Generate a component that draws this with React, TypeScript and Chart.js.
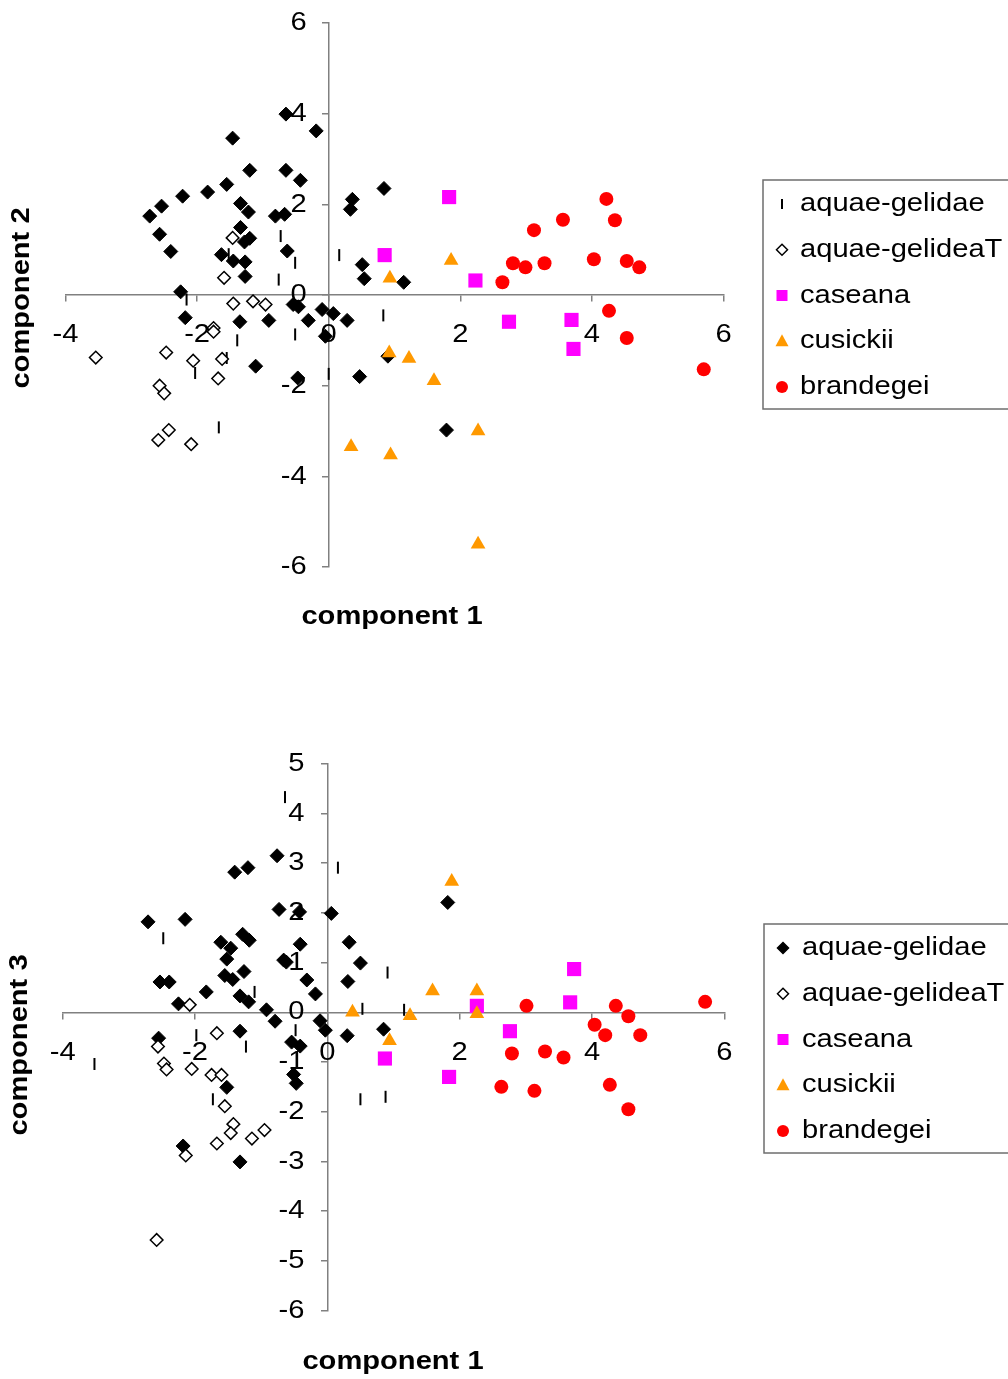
import React, { useEffect, useRef } from "react";
import { Chart, registerables } from "chart.js";

Chart.register(...registerables);

type Pt = [number, number];

// ---------- tick values ----------
const xTicks = [-4, -2, 0, 2, 4, 6];
const yTicksTop = [-6, -4, -2, 0, 2, 4, 6];
const yTicksBottom = [-6, -5, -4, -3, -2, -1, 0, 1, 2, 3, 4, 5];

// ---------- legend labels ----------
const legendTop = ["aquae-gelidae", "aquae-gelideaT", "caseana", "cusickii", "brandegei"];
const legendBottom = ["aquae-gelidae", "aquae-gelideaT", "caseana", "cusickii", "brandegei"];

// ---------- component 1 vs component 2 ----------
const c2Filled: Pt[] = [
  [-1.46, 3.46], [-0.65, 3.99], [-0.19, 3.62], [-2.72, 1.74], [-2.54, 1.96], [-2.22, 2.18],
  [-1.84, 2.27], [-1.55, 2.44], [-1.2, 2.75], [-1.34, 2.02], [-1.22, 1.83], [-2.57, 1.34],
  [-2.4, 0.96], [-1.34, 1.49], [-1.28, 1.17], [-1.2, 1.25], [-1.63, 0.89], [-1.45, 0.75],
  [-1.27, 0.73], [-1.27, 0.41], [-2.25, 0.07], [-0.65, 2.75], [-0.43, 2.53], [-0.81, 1.74],
  [-0.67, 1.78], [-0.63, 0.97], [0.33, 1.89], [0.36, 2.11], [0.84, 2.35], [0.51, 0.67],
  [0.54, 0.36], [1.14, 0.28], [-2.18, -0.5], [-1.35, -0.59], [-1.11, -1.57], [-0.54, -0.21],
  [-0.46, -0.26], [-0.91, -0.56], [-0.31, -0.56], [-0.1, -0.32], [0.07, -0.41], [0.28, -0.56],
  [-0.05, -0.91], [0.47, -1.8], [0.9, -1.35], [1.79, -2.98], [-0.47, -1.83],
];
const c2Dash: Pt[] = [
  [-1.52, 0.9], [-2.16, -0.1], [-1.39, -1.0], [-2.03, -1.72], [-1.67, -2.92], [-1.55, -1.39],
  [-0.73, 1.3], [-0.51, 0.71], [-0.76, 0.34], [0.16, 0.88], [-0.51, -0.87], [0.83, -0.45],
  [0.0, -1.74],
];
const c2Open: Pt[] = [
  [-1.46, 1.26], [-1.59, 0.38], [-1.45, -0.19], [-0.96, -0.21], [-1.75, -0.73],
  [-1.75, -0.81], [-3.54, -1.38], [-2.47, -1.27], [-2.06, -1.45], [-1.62, -1.41], [-1.68, -1.84],
  [-2.57, -2.0], [-2.5, -2.17], [-2.43, -2.98], [-2.59, -3.2], [-2.09, -3.29], [-1.15, -0.14],
];
const c2Caseana: Pt[] = [[0.85, 0.88], [1.83, 2.16], [2.23, 0.32], [2.74, -0.59], [3.69, -0.55], [3.72, -1.19]];
const c2Cusickii: Pt[] = [
  [0.93, 0.37], [1.86, 0.76], [0.92, -1.28], [1.22, -1.4], [1.6, -1.89], [0.34, -3.35],
  [0.94, -3.53], [2.27, -3.0], [2.27, -5.5],
];
const c2Brandegei: Pt[] = [
  [4.22, 2.12], [4.35, 1.65], [3.56, 1.66], [3.12, 1.43], [2.8, 0.7], [2.99, 0.61], [3.28, 0.7],
  [2.64, 0.28], [4.03, 0.79], [4.53, 0.75], [4.72, 0.61], [4.26, -0.35], [4.53, -0.95], [5.7, -1.64],
];

// ---------- component 1 vs component 3 ----------
const c3Filled: Pt[] = [
  [-1.4, 2.82], [-1.2, 2.91], [-2.71, 1.82], [-2.15, 1.87], [-1.61, 1.41], [-1.28, 1.57],
  [-1.18, 1.45], [-1.46, 1.29], [-1.52, 1.07], [-1.55, 0.74], [-1.43, 0.66], [-1.26, 0.82],
  [-2.53, 0.61], [-2.39, 0.61], [-1.83, 0.41], [-1.32, 0.33], [-1.19, 0.21], [-2.25, 0.17],
  [-0.76, 3.15], [-0.73, 2.07], [-0.42, 2.02], [0.06, 1.99], [-0.41, 1.37], [-0.66, 1.05],
  [-0.62, 1.01], [0.33, 1.41], [0.5, 0.99], [0.31, 0.62], [-0.31, 0.65], [-0.18, 0.37],
  [-0.92, 0.05], [-0.79, -0.18], [-0.11, -0.17], [-0.03, -0.36], [0.3, -0.47], [0.85, -0.34],
  [-0.54, -0.6], [-0.41, -0.68], [-0.51, -1.25], [-0.47, -1.43], [1.82, 2.21], [-1.32, -0.38],
  [-2.55, -0.52], [-1.52, -1.51], [-2.18, -2.69], [-1.32, -3.01],
];
const c3Dash: Pt[] = [
  [-1.98, -0.46], [-1.23, -0.69], [-3.52, -1.04], [-1.73, -1.75], [0.16, 2.91], [0.91, 0.8],
  [0.53, 0.07], [1.16, 0.05], [0.5, -1.75], [0.88, -1.7], [-0.64, 4.33], [-2.48, 1.49],
  [-1.1, 0.41], [-0.48, -0.36],
];
const c3Open: Pt[] = [
  [-2.08, 0.15], [-1.67, -0.42], [-2.56, -0.69], [-2.47, -1.03], [-2.43, -1.15], [-2.05, -1.14],
  [-1.75, -1.26], [-1.6, -1.26], [-1.55, -1.89], [-1.42, -2.25], [-1.46, -2.43], [-1.67, -2.64],
  [-1.14, -2.54], [-0.95, -2.37], [-2.14, -2.88], [-2.58, -4.58],
];
const c3Caseana: Pt[] = [[0.87, -0.93], [1.84, -1.3], [2.26, 0.13], [2.76, -0.38], [3.67, 0.2], [3.73, 0.87]];
const c3Cusickii: Pt[] = [[0.38, 0.0], [0.94, -0.57], [1.25, -0.07], [1.59, 0.43], [1.88, 2.63], [2.26, 0.43], [2.26, -0.03]];
const c3Brandegei: Pt[] = [
  [3.01, 0.13], [4.36, 0.13], [4.55, -0.08], [5.71, 0.21], [4.04, -0.25], [4.2, -0.46], [4.73, -0.46],
  [2.79, -0.83], [3.29, -0.79], [3.57, -0.91], [2.63, -1.5], [3.13, -1.58], [4.27, -1.46], [4.55, -1.95],
];

// ---------- styling ----------
const FONT = '"Liberation Sans", Arial, Helvetica, sans-serif';
const AXIS_COLOR = "#808080";
const PINK = "#FF00FF";
const ORANGE = "#FF9900";
const RED = "#FF0000";

type Kind = "dash" | "filled" | "open" | "square" | "triangle" | "circle";

const toXY = (arr: Pt[]) => arr.map(([x, y]) => ({ x, y }));

function dataset(kind: Kind, label: string, arr: Pt[], order: number): any {
  const base: any = { label, data: toXY(arr), order, showLine: false, clip: false };
  switch (kind) {
    case "filled":
      return { ...base, pointStyle: "rectRot", pointRadius: 7, backgroundColor: "#000", borderColor: "#000", borderWidth: 1 };
    case "dash":
      return { ...base, pointStyle: "line", pointRotation: 90, pointRadius: 6, backgroundColor: "#000", borderColor: "#000", borderWidth: 2 };
    case "open":
      return { ...base, pointStyle: "rectRot", pointRadius: 6.3, backgroundColor: "#fff", borderColor: "#000", borderWidth: 1.5 };
    case "square":
      return { ...base, pointStyle: "rect", pointRadius: 10, backgroundColor: PINK, borderColor: PINK, borderWidth: 0 };
    case "triangle":
      return { ...base, pointStyle: "triangle", pointRadius: 8.5, backgroundColor: ORANGE, borderColor: ORANGE, borderWidth: 0 };
    case "circle":
      return { ...base, pointStyle: "circle", pointRadius: 7, backgroundColor: RED, borderColor: RED, borderWidth: 0 };
  }
}

function stretchText(ctx: CanvasRenderingContext2D, text: string, x: number, y: number, align: CanvasTextAlign, sx: number, rotate = 0) {
  ctx.save();
  ctx.translate(x, y);
  if (rotate) ctx.rotate(rotate);
  ctx.scale(sx, 1);
  ctx.textAlign = align;
  ctx.textBaseline = "middle";
  ctx.fillText(text, 0, 0);
  ctx.restore();
}

function drawMarker(ctx: CanvasRenderingContext2D, kind: Kind, x: number, y: number) {
  ctx.save();
  ctx.beginPath();
  if (kind === "dash") {
    ctx.strokeStyle = "#000";
    ctx.lineWidth = 2;
    ctx.moveTo(x, y - 5);
    ctx.lineTo(x, y + 5);
    ctx.stroke();
  } else if (kind === "filled" || kind === "open") {
    const r = 5.5;
    ctx.moveTo(x, y - r);
    ctx.lineTo(x + r, y);
    ctx.lineTo(x, y + r);
    ctx.lineTo(x - r, y);
    ctx.closePath();
    ctx.fillStyle = kind === "filled" ? "#000" : "#fff";
    ctx.fill();
    ctx.strokeStyle = "#000";
    ctx.lineWidth = 1.5;
    ctx.stroke();
  } else if (kind === "square") {
    ctx.fillStyle = PINK;
    ctx.fillRect(x - 5.5, y - 5.5, 11, 11);
  } else if (kind === "triangle") {
    ctx.fillStyle = ORANGE;
    ctx.moveTo(x, y - 7);
    ctx.lineTo(x + 6.5, y + 5);
    ctx.lineTo(x - 6.5, y + 5);
    ctx.closePath();
    ctx.fill();
  } else {
    ctx.fillStyle = RED;
    ctx.arc(x, y, 6, 0, Math.PI * 2);
    ctx.fill();
  }
  ctx.restore();
}

const decorPlugin = {
  id: "decor",
  afterDraw(chart: any, _args: any, opts: any) {
    const ctx: CanvasRenderingContext2D = chart.ctx;
    const xs = chart.scales.x;
    const ys = chart.scales.y;
    const x0 = xs.getPixelForValue(0);
    const y0 = ys.getPixelForValue(0);
    ctx.save();
    ctx.fillStyle = "#000";
    ctx.font = `${opts.tickSize}px ${FONT}`;
    for (const t of xs.ticks) {
      stretchText(ctx, String(t.value), xs.getPixelForValue(t.value), y0 + opts.xLabelGap, "center", opts.sx);
    }
    for (const t of ys.ticks) {
      stretchText(ctx, String(t.value), x0 - opts.yLabelGap, ys.getPixelForValue(t.value), "right", opts.sx);
    }
    // axis titles
    ctx.font = `bold ${opts.titleSize}px ${FONT}`;
    stretchText(ctx, opts.xTitle, opts.xTitlePos[0], opts.xTitlePos[1], "center", opts.sx);
    stretchText(ctx, opts.yTitle, opts.yTitlePos[0], opts.yTitlePos[1], "center", opts.sx, -Math.PI / 2);
    // legend
    const lg = opts.legend;
    ctx.strokeStyle = "#6e6e6e";
    ctx.lineWidth = 1.5;
    ctx.strokeRect(lg.left, lg.top, lg.width, lg.height);
    ctx.font = `${opts.tickSize}px ${FONT}`;
    lg.labels.forEach((label: string, i: number) => {
      const y = lg.top + lg.firstRow + i * lg.rowGap;
      drawMarker(ctx, lg.kinds[i], lg.left + lg.markerX, y);
      ctx.fillStyle = "#000";
      stretchText(ctx, label, lg.left + lg.textX, y, "left", opts.sx);
    });
    ctx.restore();
  },
};

function axisOptions(min: number, max: number, step: number, pos: any) {
  return {
    type: "linear",
    min,
    max,
    position: pos,
    ticks: { stepSize: step, display: false },
    grid: { drawOnChartArea: false, drawTicks: true, tickLength: 6, color: AXIS_COLOR, lineWidth: 1.5 },
    border: { display: true, color: AXIS_COLOR, width: 1.5 },
  };
}

interface PanelSpec {
  height: number;
  padding: { left: number; right: number; top: number; bottom: number };
  yMin: number;
  yMax: number;
  yStep: number;
  datasets: any[];
  decor: any;
}

const topSpec: PanelSpec = {
  height: 680,
  padding: { left: 65.5, right: 284.5, top: 23, bottom: 113 },
  yMin: yTicksTop[0],
  yMax: yTicksTop[yTicksTop.length - 1],
  yStep: 2,
  datasets: [
    dataset("circle", "brandegei", c2Brandegei, 1),
    dataset("triangle", "cusickii", c2Cusickii, 2),
    dataset("square", "caseana", c2Caseana, 3),
    dataset("open", "aquae-gelideaT", c2Open, 4),
    dataset("dash", "aquae-gelidae", c2Dash, 5),
    dataset("filled", "", c2Filled, 6),
  ],
  decor: {
    tickSize: 26,
    titleSize: 26,
    sx: 1.12,
    xLabelGap: 40,
    yLabelGap: 22,
    xTitle: "component 1",
    yTitle: "component 2",
    xTitlePos: [392, 617],
    yTitlePos: [22, 298],
    legend: {
      left: 763, top: 180, width: 300, height: 229, firstRow: 24, rowGap: 45.75, markerX: 19, textX: 37,
      labels: legendTop,
      kinds: ["dash", "open", "square", "triangle", "circle"],
    },
  },
};

const bottomSpec: PanelSpec = {
  height: 679,
  padding: { left: 62.7, right: 283.7, top: 63.8, bottom: 68.5 },
  yMin: yTicksBottom[0],
  yMax: yTicksBottom[yTicksBottom.length - 1],
  yStep: 1,
  datasets: [
    dataset("circle", "brandegei", c3Brandegei, 1),
    dataset("triangle", "cusickii", c3Cusickii, 2),
    dataset("square", "caseana", c3Caseana, 3),
    dataset("open", "aquae-gelideaT", c3Open, 4),
    dataset("dash", "", c3Dash, 5),
    dataset("filled", "aquae-gelidae", c3Filled, 6),
  ],
  decor: {
    tickSize: 26,
    titleSize: 26,
    sx: 1.12,
    xLabelGap: 41,
    yLabelGap: 23,
    xTitle: "component 1",
    yTitle: "component 3",
    xTitlePos: [393, 662],
    yTitlePos: [20, 345],
    legend: {
      left: 764, top: 224, width: 300, height: 229, firstRow: 24, rowGap: 45.75, markerX: 19, textX: 38,
      labels: legendBottom,
      kinds: ["filled", "open", "square", "triangle", "circle"],
    },
  },
};

function Panel({ spec, top }: { spec: PanelSpec; top: number }) {
  const ref = useRef<HTMLCanvasElement>(null);
  useEffect(() => {
    const canvas = ref.current!;
    const chart = new Chart(canvas, {
      type: "scatter",
      data: { datasets: spec.datasets },
      options: {
        animation: false,
        responsive: false,
        maintainAspectRatio: false,
        devicePixelRatio: 1,
        layout: { padding: spec.padding },
        plugins: {
          legend: { display: false },
          tooltip: { enabled: false },
          title: { display: false },
          decor: spec.decor,
        } as any,
        scales: {
          x: axisOptions(xTicks[0], xTicks[xTicks.length - 1], 2, { y: 0 }) as any,
          y: axisOptions(spec.yMin, spec.yMax, spec.yStep, { x: 0 }) as any,
        },
      },
      plugins: [decorPlugin as any],
    });
    return () => chart.destroy();
  }, [spec]);
  return (
    <canvas
      ref={ref}
      width={1008}
      height={spec.height}
      style={{ position: "absolute", left: 0, top, width: 1008, height: spec.height, display: "block" }}
    />
  );
}

export default function App() {
  return (
    <div style={{ position: "absolute", left: 0, top: 0, width: 1008, height: 1379, background: "#fff", overflow: "hidden" }}>
      <Panel spec={topSpec} top={0} />
      <Panel spec={bottomSpec} top={700} />
    </div>
  );
}
